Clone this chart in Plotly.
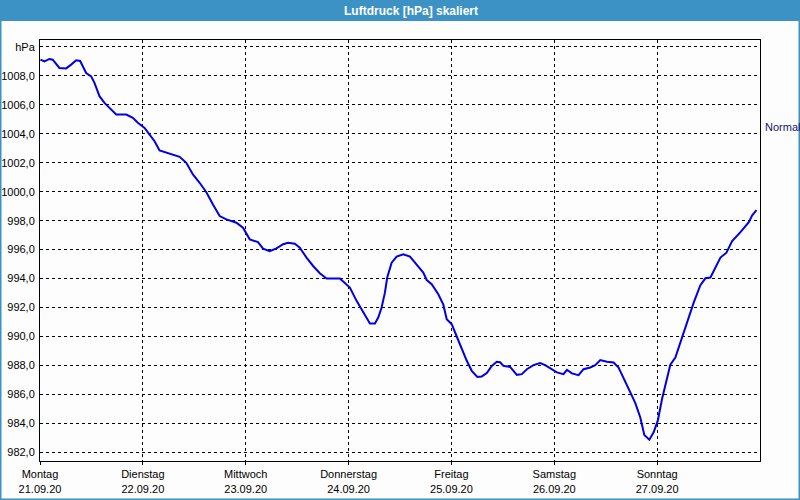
import plotly.graph_objects as go
import pandas as pd

# hours since Monday 21.09.2020 00:00
hours = [0.1, 1.03, 2.20, 2.97, 4.53, 6.10, 7.27, 8.44, 9.37, 10.77, 11.94, 12.71,
         13.88, 15.05, 16.22, 17.78, 20.12, 21.66, 22.83, 24.40, 25.57, 26.73, 27.90,
         30.24, 32.58, 34.14, 35.68, 37.25, 38.82, 40.36, 41.92, 43.49, 45.83, 47.37,
         48.94, 50.87, 52.04, 53.61, 55.17, 56.72, 57.88, 59.45, 60.62, 62.18, 63.73,
         65.29, 66.86, 69.97, 72.30, 73.87, 75.41, 76.98, 78.15, 78.92, 79.71, 80.48,
         81.02, 82.05, 83.22, 84.76, 86.33, 87.89, 89.43, 90.23, 91.40, 92.94, 94.11,
         94.90, 96.07, 97.24, 98.41, 99.58, 100.74, 102.05, 103.08, 104.25, 105.42,
         106.59, 107.36, 108.13, 109.70, 111.26, 112.43, 113.60, 115.14, 116.71,
         117.87, 119.44, 120.61, 122.15, 122.95, 124.11, 125.66, 126.83, 128.39,
         129.56, 130.73, 132.29, 133.84, 135.00, 136.17, 137.74, 138.91, 140.07,
         141.01, 142.18, 143.18, 144.17, 145.14, 146.31, 147.08, 148.25, 149.02,
         150.19, 151.36, 152.53, 154.09, 155.26, 156.43, 157.60, 158.77, 160.17,
         161.50, 163.44, 165.39, 166.18, 167.18]

pressure = [1009.12, 1009.0, 1009.17, 1009.12, 1008.55, 1008.52, 1008.78, 1009.08,
            1009.03, 1008.2, 1007.97, 1007.52, 1006.6, 1006.14, 1005.79, 1005.33,
            1005.33, 1005.1, 1004.76, 1004.41, 1003.95, 1003.49, 1002.85, 1002.64,
            1002.41, 1002.0, 1001.19, 1000.62, 999.97, 999.12, 998.32, 998.09, 997.86,
            997.52, 996.71, 996.52, 996.07, 995.9, 996.09, 996.37, 996.48, 996.41,
            996.14, 995.45, 994.87, 994.37, 994.0, 994.0, 993.38, 992.46, 991.66,
            990.9, 990.9, 991.31, 992.0, 993.03, 994.07, 995.1, 995.52, 995.68,
            995.52, 994.99, 994.41, 993.9, 993.61, 992.92, 992.2, 991.19, 990.85,
            990.0, 989.12, 988.32, 987.63, 987.21, 987.24, 987.47, 987.97, 988.25,
            988.22, 987.97, 987.9, 987.35, 987.4, 987.74, 988.02, 988.16, 988.02,
            987.7, 987.52, 987.4, 987.7, 987.45, 987.33, 987.74, 987.86, 988.02,
            988.37, 988.25, 988.2, 987.86, 987.17, 986.14, 985.4, 984.41, 983.2,
            982.87, 983.38, 984.2, 985.68, 987.06, 988.05, 988.55, 989.24, 990.28,
            991.42, 992.34, 993.54, 994.02, 994.07, 994.76, 995.45, 995.79, 996.59,
            997.21, 997.9, 998.37, 998.73]

day_dates = ["2020-09-21", "2020-09-22", "2020-09-23", "2020-09-24",
             "2020-09-25", "2020-09-26", "2020-09-27"]
day_names = ["Montag", "Dienstag", "Mittwoch", "Donnerstag",
             "Freitag", "Samstag", "Sonntag"]
day_labels = ["21.09.20", "22.09.20", "23.09.20", "24.09.20",
              "25.09.20", "26.09.20", "27.09.20"]

y_ticks = [982, 984, 986, 988, 990, 992, 994, 996, 998, 1000, 1002, 1004, 1006, 1008, 1010]
y_ticktext = [f"{v:.1f}".replace(".", ",") for v in y_ticks[:-1]] + ["hPa"]

series_name = "Normal"
title_text = "Luftdruck [hPa] skaliert"

start = pd.Timestamp("2020-09-21")
times = start + pd.to_timedelta(hours, unit="h")

W, H = 800, 500
ML, MR, MT, MB = 40, 40, 40, 39
pw, ph = W - ML - MR, H - MT - MB


def px_x(p):
    return (p - ML) / pw


def px_y(p):
    return (H - MB - p) / ph


fig = go.Figure()
fig.add_trace(go.Scatter(x=times, y=pressure, mode="lines", name=series_name,
                         line=dict(color="#0000e6", width=2), showlegend=False))

font_main = "Liberation Sans, Arial, sans-serif"
grid = dict(showgrid=True, gridcolor="#000000", gridwidth=1, griddash="3px,3px",
            showline=True, linecolor="#000000", linewidth=1, mirror=True,
            zeroline=False)

fig.update_xaxes(type="date", range=["2020-09-21", "2020-09-28"],
                 tickvals=day_dates,
                 ticktext=[f"{n}<br>{d}" for n, d in zip(day_names, day_labels)],
                 ticks="outside", ticklen=3, tickcolor="#000000",
                 tickfont=dict(family=font_main, size=11, color="#000000"),
                 **grid)
fig.update_yaxes(range=[981.4, 1010.48], tickvals=y_ticks, ticktext=y_ticktext,
                 ticks="", ticklabelstandoff=2,
                 tickfont=dict(family=font_main, size=11, color="#000000"),
                 **grid)

shapes = [
    dict(type="rect", xref="paper", yref="paper",
         x0=px_x(0), x1=px_x(W), y0=px_y(21), y1=px_y(0),
         fillcolor="#3d92c5", line=dict(width=0), layer="above"),
    dict(type="rect", xref="paper", yref="paper",
         x0=px_x(0.75), x1=px_x(W - 0.75), y0=px_y(H - 0.75), y1=px_y(0.75),
         fillcolor="rgba(0,0,0,0)", line=dict(color="#3d92c5", width=1.5), layer="above"),
]

annotations = [
    dict(text=f"<b>{title_text}</b>", xref="paper", yref="paper",
         x=px_x(411), y=px_y(10.5), xanchor="center", yanchor="middle",
         showarrow=False, font=dict(family=font_main, size=12, color="#ffffff")),
    dict(text=series_name, xref="paper", yref="y", x=1, y=1004.48,
         xanchor="left", yanchor="middle", xshift=3, showarrow=False,
         font=dict(family=font_main, size=11, color="#14146e")),
]

fig.update_layout(width=W, height=H,
                  margin=dict(l=ML, r=MR, t=MT, b=MB, autoexpand=False),
                  paper_bgcolor="#fcfdfc", plot_bgcolor="#fcfdfc",
                  shapes=shapes, annotations=annotations, showlegend=False)

fig.write_html("out.html", config={"displayModeBar": False},
               post_script="document.body.style.margin='0';document.body.style.overflow='hidden';")
